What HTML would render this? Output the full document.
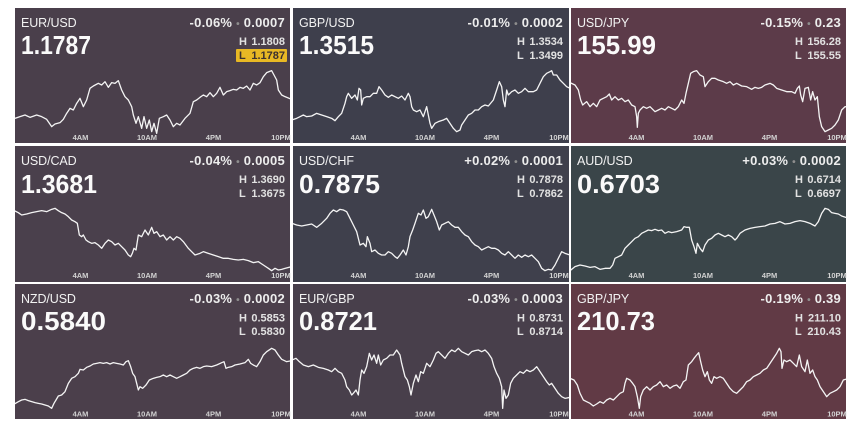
<!DOCTYPE html>
<html>
<head>
<meta charset="utf-8">
<style>
html,body{margin:0;padding:0;background:#fff;}
svg{display:block;}
text{font-family:"Liberation Sans",Arial,sans-serif;}
.nm{font-size:12.5px;fill:#f2f2f2;letter-spacing:-0.1px;}
.pr{font-size:26px;font-weight:bold;fill:#fafafa;}
.ch{font-size:13px;font-weight:bold;fill:#ededed;letter-spacing:0.25px;}
.bu{fill:#8e8e8e;font-size:10px;}
.hl{font-size:11px;font-weight:bold;fill:#e2e2e2;}
.ax{font-size:7.5px;font-weight:bold;fill:#d2d2d2;text-anchor:middle;}
.ln{fill:none;stroke:#f4f4f4;stroke-width:3.9;stroke-linejoin:round;}
</style>
</head>
<body>
<svg width="849" height="427" viewBox="0 0 849 427" xmlns="http://www.w3.org/2000/svg">
<defs>
<clipPath id="c1"><rect x="15" y="8" width="275" height="135"/></clipPath>
<clipPath id="c2"><rect x="293" y="8" width="276" height="135"/></clipPath>
<clipPath id="c3"><rect x="571" y="8" width="275" height="135"/></clipPath>
<clipPath id="c4"><rect x="15" y="146" width="275" height="136"/></clipPath>
<clipPath id="c5"><rect x="293" y="146" width="276" height="136"/></clipPath>
<clipPath id="c6"><rect x="571" y="146" width="275" height="136"/></clipPath>
<clipPath id="c7"><rect x="15" y="284" width="275" height="135"/></clipPath>
<clipPath id="c8"><rect x="293" y="284" width="276" height="135"/></clipPath>
<clipPath id="c9"><rect x="571" y="284" width="275" height="135"/></clipPath>
</defs>

<!-- backgrounds -->
<rect x="15" y="8" width="275" height="135" fill="#4a3f4b"/>
<rect x="293" y="8" width="276" height="135" fill="#3e3f4c"/>
<rect x="571" y="8" width="275" height="135" fill="#5c3b49"/>
<rect x="15" y="146" width="275" height="136" fill="#4a404c"/>
<rect x="293" y="146" width="276" height="136" fill="#3f404c"/>
<rect x="571" y="146" width="275" height="136" fill="#3a4549"/>
<rect x="15" y="284" width="275" height="135" fill="#4b3f4b"/>
<rect x="293" y="284" width="276" height="135" fill="#483f4b"/>
<rect x="571" y="284" width="275" height="135" fill="#613a45"/>

<!-- lines -->
<g clip-path="url(#c1)"><g transform="translate(0,0) scale(0.33333)">
<polyline class="ln" points="45,355 60,350 75,345 90,352 110,345 125,350 140,358 155,380 165,372 180,368 190,358 200,340 210,325 220,330 230,310 240,295 250,320 260,300 270,265 280,258 295,250 305,255 315,245 325,262 335,248 345,250 355,242 365,270 375,290 385,300 395,320 400,345 408,370 415,350 425,385 432,350 440,385 448,360 455,395 462,370 470,400 478,355 490,350 500,345 510,360 520,380 530,370 540,375 555,355 570,340 580,305 590,300 600,292 610,285 620,290 630,278 640,290 650,280 660,262 670,285 680,275 690,272 700,268 710,270 720,262 730,265 740,258 750,270 760,250 770,255 780,248 790,230 800,218 815,212 822,225 830,240 835,270 845,285 855,290 875,298"/>
</g></g>
<g clip-path="url(#c2)"><g transform="translate(280,0) scale(0.33333)">
<polyline class="ln" points="35,360 50,355 60,350 70,345 80,350 95,348 110,340 125,345 140,350 155,355 165,362 175,350 185,340 195,310 200,290 205,280 215,295 225,285 232,300 237,265 242,270 245,315 250,295 260,290 270,290 280,280 290,280 297,260 305,270 315,285 325,292 335,285 345,290 355,295 365,288 375,300 385,280 390,290 395,320 400,330 410,335 420,330 430,350 440,320 445,345 450,370 455,385 465,370 475,365 490,360 500,355 510,370 520,385 530,395 540,390 545,375 555,360 565,345 575,340 585,330 595,330 605,320 615,315 625,318 640,300 650,270 658,245 665,260 670,300 675,320 680,270 685,285 695,275 705,270 715,280 725,275 735,265 745,275 760,275 770,270 780,250 790,230 800,220 810,215 815,212 820,225 830,225 840,240 850,250 860,260 870,265"/>
</g></g>
<g clip-path="url(#c3)"><g transform="translate(560,0) scale(0.33333)">
<polyline class="ln" points="30,248 45,255 55,270 62,300 68,315 80,305 90,320 100,310 110,320 120,300 130,295 140,290 148,282 155,300 165,290 175,300 185,295 195,305 205,300 215,315 225,320 230,350 232,382 235,340 240,330 250,320 260,325 270,320 285,335 295,330 305,325 315,330 325,320 335,325 345,330 355,320 365,300 372,310 378,280 385,250 392,220 400,215 410,212 420,225 430,230 435,260 445,245 455,235 465,235 475,240 490,245 500,250 510,245 520,255 530,250 545,258 560,260 575,268 585,262 595,265 605,262 615,255 630,250 640,255 650,265 665,270 680,275 695,275 705,280 712,265 718,258 722,285 728,305 735,265 745,262 752,300 758,275 765,300 772,290 778,350 785,380 795,395 805,390 815,385 825,375 835,360 845,330 855,320 866,322"/>
</g></g>
<g clip-path="url(#c4)"><g transform="translate(0,140) scale(0.33333)">
<polyline class="ln" points="43,212 55,218 65,225 80,222 95,218 110,215 125,212 140,215 155,208 165,205 175,212 185,218 195,222 205,230 215,240 225,245 232,250 238,285 245,290 250,285 258,300 265,305 275,310 285,308 295,315 305,325 315,310 325,300 335,305 345,315 355,310 365,320 375,330 385,345 392,350 397,340 402,325 408,330 415,285 425,290 435,270 445,285 455,262 462,280 470,275 480,290 490,285 500,300 510,290 520,300 530,290 540,295 550,305 565,325 575,335 585,345 600,340 610,335 625,340 640,345 655,350 670,355 685,355 700,358 715,360 730,358 745,362 760,368 775,365 790,375 805,385 815,392 825,385 835,390 845,388 855,385 875,380"/>
</g></g>
<g clip-path="url(#c5)"><g transform="translate(290,140) scale(0.33333)">
<polyline class="ln" points="6,250 20,255 35,258 50,255 65,252 80,262 95,250 110,235 120,220 130,210 140,215 150,208 160,210 170,215 180,235 190,255 200,275 210,315 220,310 228,320 232,290 240,310 245,335 255,330 265,340 275,345 285,345 295,335 305,340 315,350 322,355 330,345 340,330 348,345 355,320 360,290 368,270 375,250 385,220 393,225 400,210 408,235 415,230 425,208 432,225 440,245 448,270 455,255 465,250 475,245 485,255 495,262 505,262 515,275 525,285 535,290 545,305 555,315 565,320 575,330 585,325 595,320 605,325 615,325 625,330 635,340 645,345 655,335 665,345 675,355 685,345 695,352 705,345 715,350 725,345 735,355 745,365 755,385 765,392 775,388 785,390 795,375 805,355 815,335 825,340 840,345"/>
</g></g>
<g clip-path="url(#c6)"><g transform="translate(560,140) scale(0.33333)">
<polyline class="ln" points="30,392 45,380 60,375 75,378 90,382 105,380 120,388 135,385 150,385 158,375 165,355 175,350 185,345 195,325 205,315 215,305 225,295 235,290 245,280 255,275 265,270 275,272 285,268 295,272 305,270 315,280 325,275 335,278 350,275 365,270 372,260 380,262 388,262 395,300 402,320 408,340 412,310 420,325 428,335 435,315 445,300 455,295 465,285 475,280 485,285 495,290 505,285 515,290 525,300 530,295 540,280 555,270 570,265 585,262 600,260 615,258 630,252 645,250 660,245 675,252 690,250 705,245 720,242 735,245 750,250 765,258 775,245 785,220 795,205 805,208 815,218 825,220 835,222 845,228 866,235"/>
</g></g>
<g clip-path="url(#c7)"><g transform="translate(0,280) scale(0.33333)">
<polyline class="ln" points="43,372 55,365 65,360 75,358 85,362 95,365 105,368 115,370 125,372 135,375 145,378 155,385 162,370 168,360 175,348 185,345 195,335 205,310 215,295 225,290 235,280 240,268 250,270 260,262 270,258 280,252 290,250 300,248 310,250 320,248 330,252 340,248 350,250 360,252 370,255 378,245 385,242 392,260 398,280 405,290 410,310 415,330 420,320 428,325 438,315 448,300 460,295 470,292 480,290 490,285 500,290 510,285 520,290 530,295 540,290 550,285 560,280 570,270 580,265 590,262 600,265 610,260 620,258 635,260 650,255 665,248 672,245 678,265 685,262 695,260 705,255 720,252 735,248 745,238 752,250 760,255 770,260 780,245 790,225 800,215 815,205 825,210 835,225 845,238 860,245 875,242"/>
</g></g>
<g clip-path="url(#c8)"><g transform="translate(290,280) scale(0.33333)">
<polyline class="ln" points="6,240 18,235 28,245 40,255 55,260 70,255 85,262 100,265 115,270 125,275 135,265 145,275 155,280 165,300 170,320 178,330 185,345 190,340 198,330 205,345 210,300 215,270 222,280 230,260 238,220 245,240 252,225 260,250 265,225 272,255 280,240 290,235 300,225 310,225 320,210 330,225 335,250 345,290 352,300 358,320 363,345 370,310 378,285 385,305 392,275 400,280 410,250 420,260 430,240 438,220 445,215 455,225 465,235 475,220 485,210 495,215 505,205 515,215 525,220 535,225 545,215 555,212 565,210 575,215 585,210 595,220 605,235 612,260 620,280 628,295 635,320 638,385 642,330 648,355 655,345 662,310 670,295 680,285 690,275 700,280 710,270 720,275 730,270 740,260 750,275 760,290 770,305 778,315 785,310 795,325 805,340 815,350 825,355 840,352"/>
</g></g>
<g clip-path="url(#c9)"><g transform="translate(560,280) scale(0.33333)">
<polyline class="ln" points="30,295 42,300 52,315 60,340 70,360 80,365 90,370 100,378 110,372 120,365 130,370 140,360 150,355 160,360 170,350 180,340 190,335 195,310 200,295 210,300 218,310 225,320 232,350 238,385 242,350 250,330 260,320 270,330 280,320 290,315 300,305 310,320 320,315 330,325 340,318 350,315 360,325 370,305 378,300 385,255 395,245 402,235 410,225 416,218 422,245 428,270 435,290 442,275 448,300 455,310 462,290 470,295 480,290 490,295 500,310 510,325 520,335 530,340 540,330 550,320 560,305 570,300 580,290 590,285 600,280 610,270 620,265 630,250 640,235 650,220 658,205 663,215 666,265 672,240 680,245 690,240 700,250 710,260 718,225 725,260 735,275 742,240 750,280 758,270 765,290 772,300 780,320 790,335 800,350 810,340 820,335 830,330 840,320 850,300 866,295"/>
</g></g>

<!-- Panel 1 -->
<g transform="translate(15,8)">
<text class="nm" x="6" y="19">EUR/USD</text>
<text class="pr" x="6" y="46" textLength="70" lengthAdjust="spacingAndGlyphs">1.1787</text>
<text class="ch" x="270" y="19" text-anchor="end">-0.06% <tspan class="bu">•</tspan> 0.0007</text>
<text class="hl" x="224" y="37">H</text><text class="hl" x="270" y="37" text-anchor="end">1.1808</text>
<rect x="221" y="41" width="51" height="13" rx="1" fill="#e8b824"/>
<text class="hl" x="224" y="51" style="fill:#3b3030">L</text><text class="hl" x="270" y="51" text-anchor="end" style="fill:#3b3030">1.1787</text>
<text class="ax" x="65.5" y="132">4AM</text><text class="ax" x="132" y="132">10AM</text><text class="ax" x="198.5" y="132">4PM</text><text class="ax" x="266" y="132">10PM</text>
</g>
<!-- Panel 2 -->
<g transform="translate(293,8)">
<text class="nm" x="6" y="19">GBP/USD</text>
<text class="pr" x="6" y="46" textLength="75" lengthAdjust="spacingAndGlyphs">1.3515</text>
<text class="ch" x="270" y="19" text-anchor="end">-0.01% <tspan class="bu">•</tspan> 0.0002</text>
<text class="hl" x="224" y="37">H</text><text class="hl" x="270" y="37" text-anchor="end">1.3534</text>
<text class="hl" x="224" y="51">L</text><text class="hl" x="270" y="51" text-anchor="end">1.3499</text>
<text class="ax" x="65.5" y="132">4AM</text><text class="ax" x="132" y="132">10AM</text><text class="ax" x="198.5" y="132">4PM</text><text class="ax" x="266" y="132">10PM</text>
</g>
<!-- Panel 3 -->
<g transform="translate(571,8)">
<text class="nm" x="6" y="19">USD/JPY</text>
<text class="pr" x="6" y="46" textLength="79" lengthAdjust="spacingAndGlyphs">155.99</text>
<text class="ch" x="270" y="19" text-anchor="end">-0.15% <tspan class="bu">•</tspan> 0.23</text>
<text class="hl" x="224" y="37">H</text><text class="hl" x="270" y="37" text-anchor="end">156.28</text>
<text class="hl" x="224" y="51">L</text><text class="hl" x="270" y="51" text-anchor="end">155.55</text>
<text class="ax" x="65.5" y="132">4AM</text><text class="ax" x="132" y="132">10AM</text><text class="ax" x="198.5" y="132">4PM</text><text class="ax" x="266" y="132">10PM</text>
</g>
<!-- Panel 4 -->
<g transform="translate(15,146)">
<text class="nm" x="6" y="19">USD/CAD</text>
<text class="pr" x="6" y="47" textLength="76" lengthAdjust="spacingAndGlyphs">1.3681</text>
<text class="ch" x="270" y="19" text-anchor="end">-0.04% <tspan class="bu">•</tspan> 0.0005</text>
<text class="hl" x="224" y="37">H</text><text class="hl" x="270" y="37" text-anchor="end">1.3690</text>
<text class="hl" x="224" y="51">L</text><text class="hl" x="270" y="51" text-anchor="end">1.3675</text>
<text class="ax" x="65.5" y="132">4AM</text><text class="ax" x="132" y="132">10AM</text><text class="ax" x="198.5" y="132">4PM</text><text class="ax" x="266" y="132">10PM</text>
</g>
<!-- Panel 5 -->
<g transform="translate(293,146)">
<text class="nm" x="6" y="19">USD/CHF</text>
<text class="pr" x="6" y="47" textLength="81" lengthAdjust="spacingAndGlyphs">0.7875</text>
<text class="ch" x="270" y="19" text-anchor="end">+0.02% <tspan class="bu">•</tspan> 0.0001</text>
<text class="hl" x="224" y="37">H</text><text class="hl" x="270" y="37" text-anchor="end">0.7878</text>
<text class="hl" x="224" y="51">L</text><text class="hl" x="270" y="51" text-anchor="end">0.7862</text>
<text class="ax" x="65.5" y="132">4AM</text><text class="ax" x="132" y="132">10AM</text><text class="ax" x="198.5" y="132">4PM</text><text class="ax" x="266" y="132">10PM</text>
</g>
<!-- Panel 6 -->
<g transform="translate(571,146)">
<text class="nm" x="6" y="19">AUD/USD</text>
<text class="pr" x="6" y="47" textLength="83" lengthAdjust="spacingAndGlyphs">0.6703</text>
<text class="ch" x="270" y="19" text-anchor="end">+0.03% <tspan class="bu">•</tspan> 0.0002</text>
<text class="hl" x="224" y="37">H</text><text class="hl" x="270" y="37" text-anchor="end">0.6714</text>
<text class="hl" x="224" y="51">L</text><text class="hl" x="270" y="51" text-anchor="end">0.6697</text>
<text class="ax" x="65.5" y="132">4AM</text><text class="ax" x="132" y="132">10AM</text><text class="ax" x="198.5" y="132">4PM</text><text class="ax" x="266" y="132">10PM</text>
</g>
<!-- Panel 7 -->
<g transform="translate(15,284)">
<text class="nm" x="6" y="19">NZD/USD</text>
<text class="pr" x="6" y="46" textLength="85" lengthAdjust="spacingAndGlyphs">0.5840</text>
<text class="ch" x="270" y="19" text-anchor="end">-0.03% <tspan class="bu">•</tspan> 0.0002</text>
<text class="hl" x="224" y="37.5">H</text><text class="hl" x="270" y="37.5" text-anchor="end">0.5853</text>
<text class="hl" x="224" y="51">L</text><text class="hl" x="270" y="51" text-anchor="end">0.5830</text>
<text class="ax" x="65.5" y="132.5">4AM</text><text class="ax" x="132" y="132.5">10AM</text><text class="ax" x="198.5" y="132.5">4PM</text><text class="ax" x="266" y="132.5">10PM</text>
</g>
<!-- Panel 8 -->
<g transform="translate(293,284)">
<text class="nm" x="6" y="19">EUR/GBP</text>
<text class="pr" x="6" y="46" textLength="78" lengthAdjust="spacingAndGlyphs">0.8721</text>
<text class="ch" x="270" y="19" text-anchor="end">-0.03% <tspan class="bu">•</tspan> 0.0003</text>
<text class="hl" x="224" y="37.5">H</text><text class="hl" x="270" y="37.5" text-anchor="end">0.8731</text>
<text class="hl" x="224" y="51">L</text><text class="hl" x="270" y="51" text-anchor="end">0.8714</text>
<text class="ax" x="65.5" y="132.5">4AM</text><text class="ax" x="132" y="132.5">10AM</text><text class="ax" x="198.5" y="132.5">4PM</text><text class="ax" x="266" y="132.5">10PM</text>
</g>
<!-- Panel 9 -->
<g transform="translate(571,284)">
<text class="nm" x="6" y="19">GBP/JPY</text>
<text class="pr" x="6" y="46" textLength="78" lengthAdjust="spacingAndGlyphs">210.73</text>
<text class="ch" x="270" y="19" text-anchor="end">-0.19% <tspan class="bu">•</tspan> 0.39</text>
<text class="hl" x="224" y="37.5">H</text><text class="hl" x="270" y="37.5" text-anchor="end">211.10</text>
<text class="hl" x="224" y="51">L</text><text class="hl" x="270" y="51" text-anchor="end">210.43</text>
<text class="ax" x="65.5" y="132.5">4AM</text><text class="ax" x="132" y="132.5">10AM</text><text class="ax" x="198.5" y="132.5">4PM</text><text class="ax" x="266" y="132.5">10PM</text>
</g>
</svg>
</body>
</html>
